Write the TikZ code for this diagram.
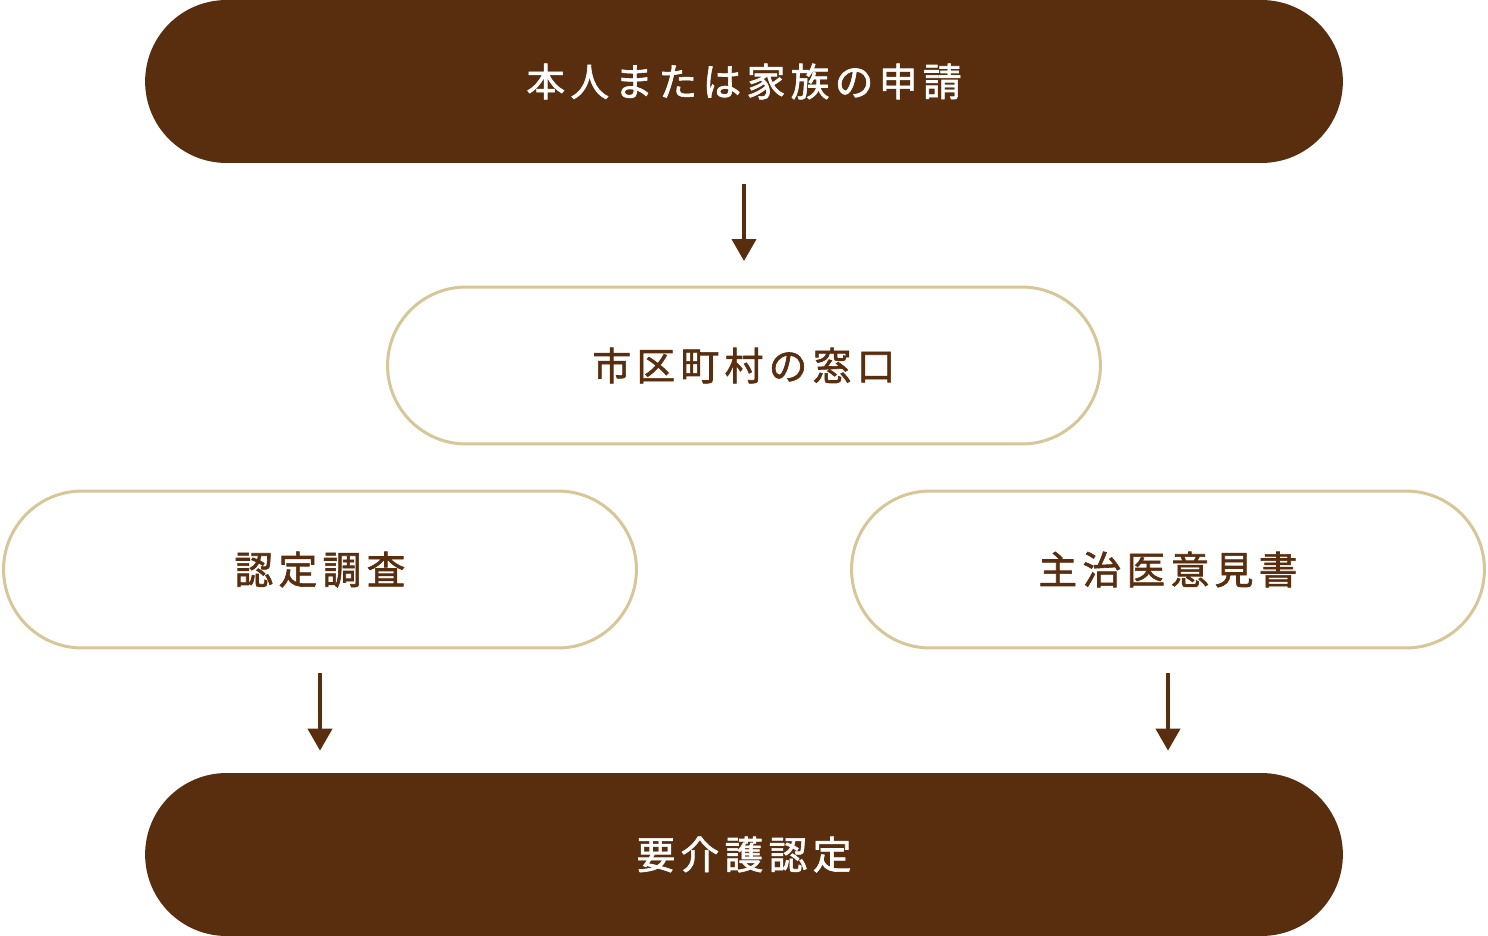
\documentclass[tikz,border=0pt]{standalone}
\usepackage{fontspec}
\usetikzlibrary{arrows.meta}
\newfontfamily\jpfont[LetterSpace=14,FakeBold=1.6]{Noto Sans CJK JP}
\definecolor{Bark}{HTML}{582E0E}
\definecolor{Sand}{HTML}{D6C698}

\begin{document}
\begin{tikzpicture}[x=0.02cm,y=-0.02cm,
  darkpill/.style={fill=Bark,text=white,minimum width=23.96cm,minimum height=3.26cm,rounded corners=1.63cm,inner sep=0pt,font=\jpfont\fontsize{22}{26}\selectfont},
  lightpill/.style={draw=Sand,fill=white,line width=1.7pt,text=Bark,minimum height=3.14cm,rounded corners=1.57cm,inner sep=0pt,font=\jpfont\fontsize{22}{26}\selectfont},
  flow/.style={draw=Bark,line width=2.3pt,-{Triangle[width=0.48cm,length=0.44cm]}}]
\useasboundingbox (0,0) rectangle (1488,936);
\node[darkpill] (shinsei) at (744,81.5) {本人または家族の申請};
\node[lightpill,minimum width=14.26cm] (madoguchi) at (744,365.5) {市区町村の窓口};
\foreach \n/\x/\t in {chosa/320/認定調査,ikensho/1168/主治医意見書} {\node[lightpill,minimum width=12.66cm] (\n) at (\x,569.5) {\t};}
\node[darkpill] (nintei) at (744,854.5) {要介護認定};
\draw[flow,shorten <=0.42cm,shorten >=0.49cm] (shinsei.south) -- (madoguchi.north);
\foreach \n in {chosa,ikensho} {\draw[flow,shorten <=0.47cm,shorten >=0.44cm] (\n.south) -- (\n.south |- nintei.north);}
\end{tikzpicture}
\end{document}
